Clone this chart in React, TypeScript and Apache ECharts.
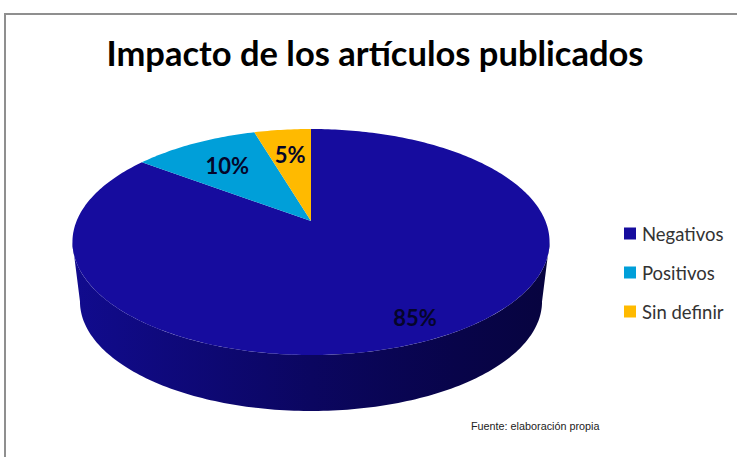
import React, { useEffect, useRef } from "react";
import * as echarts from "echarts";

const categories = ["Negativos", "Positivos", "Sin definir"];
const values = [85.2, 10.2, 4.6];
const sliceLabels = ["85%", "10%", "5%"];
const colors = ["#160c9e", "#009fd9", "#ffba00"];
const labelRadii = [0.85, 0.69, 0.7];

// Perspective projection of the pie disc: a point at (X, Y) on the unit disc,
// Y towards the viewer, lands at vx + A·X/w, vy + B·Y/w with w = 1 − k·Y.
const TILT = 0.1858;
const topDisc = { vx: 311, vy: 221, a: 234.4, b: 109.1 };
const baseDisc = { vx: 311, vy: 281.2, a: 227, b: 105.7 };

const total = values.reduce((s, v) => s + v, 0);

function project(d: typeof topDisc, deg: number, r = 1): number[] {
  const t = (deg * Math.PI) / 180;
  const X = r * Math.sin(t);
  const Y = -r * Math.cos(t);
  const w = 1 - TILT * Y;
  return [d.vx + (d.a * X) / w, d.vy + (d.b * Y) / w];
}

function arcPoints(d: typeof topDisc, from: number, to: number): number[][] {
  const n = Math.max(2, Math.ceil(Math.abs(to - from)));
  const pts: number[][] = [];
  for (let i = 0; i <= n; i++) pts.push(project(d, from + ((to - from) * i) / n));
  return pts;
}

const tangent = (Math.acos(-TILT) * 180) / Math.PI;

function makeRenderItem(index: number) {
  return (_params: any, api: any) => {
    const value = api.value(0);
    const before = values.slice(0, index).reduce((s, v) => s + v, 0);
    const a0 = (before / total) * 360;
    const a1 = a0 + (value / total) * 360;
    const children: any[] = [];

    const s0 = Math.max(a0, tangent);
    const s1 = Math.min(a1, 360 - tangent);
    if (s1 > s0) {
      children.push({
        type: "polygon",
        shape: {
          points: [...arcPoints(topDisc, s0, s1), ...arcPoints(baseDisc, s1, s0)],
        },
        style: {
          fill: new echarts.graphic.LinearGradient(0, 0, 1, 0, [
            { offset: 0, color: "#110b8e" },
            { offset: 0.5, color: "#0b0660" },
            { offset: 0.8, color: "#08044a" },
            { offset: 1, color: "#07043f" },
          ]),
        },
      });
    }

    children.push({
      type: "polygon",
      shape: { points: [[topDisc.vx, topDisc.vy], ...arcPoints(topDisc, a0, a1)] },
      style: { fill: colors[index] },
    });

    const [lx, ly] = project(topDisc, (a0 + a1) / 2, labelRadii[index]);
    children.push({
      type: "text",
      x: lx,
      y: ly,
      style: {
        text: sliceLabels[index],
        fill: "#05052a",
        font: "700 22px Lato, sans-serif",
        align: "center",
        verticalAlign: "middle",
      },
    });
    return { type: "group", children };
  };
}

export default function App() {
  const ref = useRef<HTMLDivElement>(null);
  useEffect(() => {
    const chart = echarts.init(ref.current!, null, { renderer: "svg" });
    chart.setOption({
      animation: false,
      backgroundColor: "#ffffff",
      title: [
        {
          text: "Impacto de los artículos publicados",
          left: 370,
          top: 30,
          textAlign: "center",
          textStyle: { fontFamily: "Lato", fontWeight: 700, fontSize: 34.5, color: "#000000" },
        },
        {
          text: "Fuente: elaboración propia",
          left: 466,
          top: 415,
          textStyle: { fontFamily: "Liberation Sans", fontWeight: 400, fontSize: 10.8, color: "#222222" },
        },
      ],
      legend: {
        orient: "vertical",
        left: 619,
        top: 219,
        icon: "rect",
        itemWidth: 12,
        itemHeight: 12,
        itemGap: 20,
        data: categories,
        selectedMode: false,
        textStyle: { fontFamily: "Lato", fontSize: 18.5, color: "#333333", padding: [0, 0, 0, 1] },
      },
      graphic: [
        {
          type: "polyline",
          shape: { points: [[5, 457], [5, 14], [737, 14]] },
          style: { stroke: "#8f8f8f", lineWidth: 2, fill: "none" },
          silent: true,
        },
      ],
      series: categories.map((name, i) => ({
        type: "custom",
        name,
        coordinateSystem: "none",
        itemStyle: { color: colors[i] },
        renderItem: makeRenderItem(i),
        data: [[values[i]]],
        silent: true,
      })),
    });
    return () => chart.dispose();
  }, []);
  return <div ref={ref} style={{ position: "fixed", left: 0, top: 0, width: 737, height: 457 }} />;
}
